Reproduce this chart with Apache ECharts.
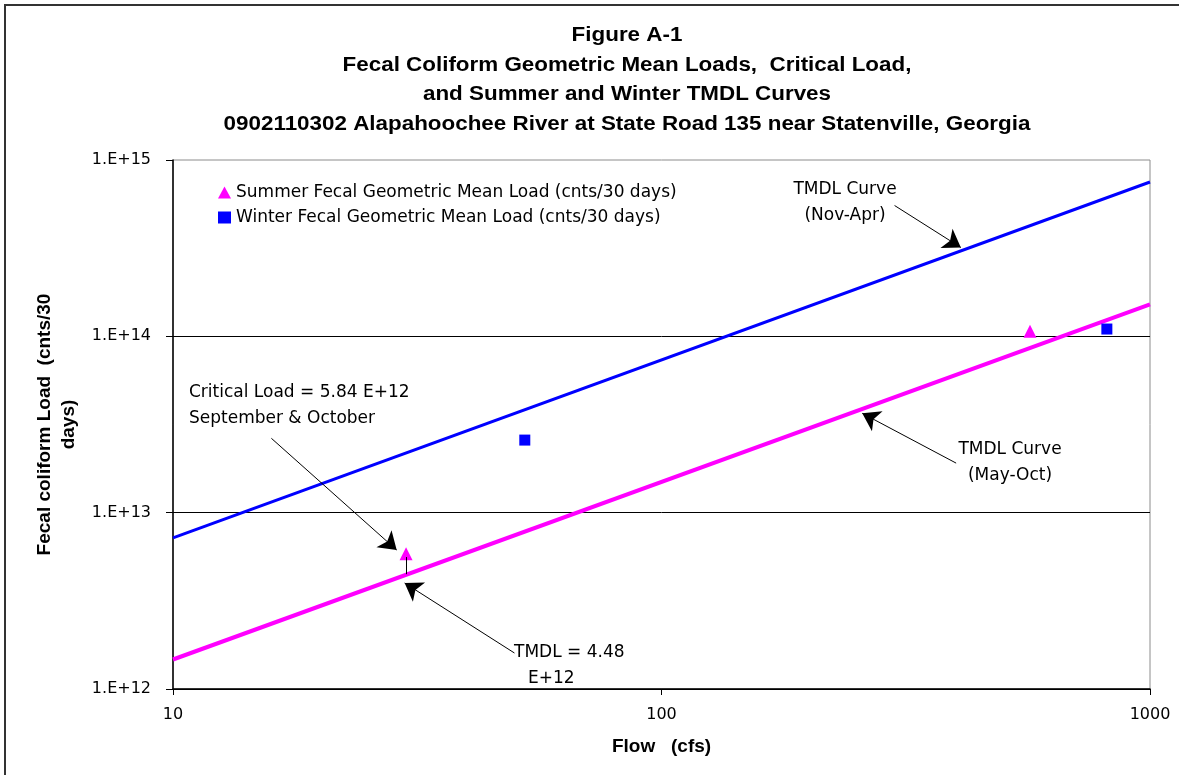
<!DOCTYPE html>
<html>
<head>
<meta charset="utf-8">
<script src="https://cdn.jsdelivr.net/npm/echarts@6/dist/echarts.min.js"></script>
<style>
    html, body { margin: 0; padding: 0; background: #fff; }
    #chart { width: 1179px; height: 775px; }
</style>
</head>
<body>
<div id="chart"></div>
<script>
    // values (flow in cfs, load in counts / 30 days)
    const summerPoints = [[30, 5.84e12], [568, 1.07e14]];
    const winterPoints = [[52.5, 2.58e13], [816, 1.10e14]];
    const winterCurve = [[10, 7.2e12], [1000, 7.5e14]];
    const summerCurve = [[10, 1.47e12], [1000, 1.52e14]];
    const yTickLabels = ['1.E+12', '1.E+13', '1.E+14', '1.E+15'];
    const xTickLabels = ['10', '100', '1000'];

    // annotation arrows: [from, to] in data units
    const arrows = [
        [[15.9, 2.64e13], [28.7, 6.14e12]],
        [[50, 1.6e12], [29.8, 3.99e12]],
        [[300, 5.52e14], [410, 3.19e14]],
        [[401, 1.91e13], [257.6, 3.66e13]]
    ];
    const tmdlTick = [[30, 5.6e12], [30, 4.48e12]];

    const font = '"Liberation Sans", Arial, sans-serif';
    const wideFont = '"DejaVu Sans", Verdana, sans-serif';
    const myCharts = echarts.init(document.getElementById('chart'));

    const note = (x, y, text, align) => ({
        type: 'text', x: x, y: y,
        style: { text: text, font: '17px ' + wideFont, fill: '#000', textAlign: align || 'center', lineHeight: 26 }
    });

    let options = {
        animation: false,
        textStyle: { fontFamily: font },
        grid: {
            left: 173, right: 29, top: 160, bottom: 86,
            show: true, borderColor: '#8c8c8c', borderWidth: 1
        },
        legend: {
            orient: 'vertical',
            left: 213, top: 179,
            itemWidth: 13, itemHeight: 12, itemGap: 8,
            textStyle: { fontSize: 17, color: '#000', fontFamily: wideFont },
            data: ['Summer Fecal Geometric Mean Load (cnts/30 days)', 'Winter Fecal Geometric Mean Load (cnts/30 days)']
        },
        graphic: [
            { type: 'rect', shape: { x: 5, y: 5, width: 1190, height: 790 }, style: { fill: 'none', stroke: '#333', lineWidth: 2 } },
            {
                type: 'text', x: 627, y: 21, scaleX: 1.12,
                style: {
                    text: 'Figure A-1\nFecal Coliform Geometric Mean Loads,  Critical Load,\nand Summer and Winter TMDL Curves\n0902110302 Alapahoochee River at State Road 135 near Statenville, Georgia',
                    font: 'bold 20px ' + font, fill: '#000', textAlign: 'center', lineHeight: 29.5
                }
            },
            note(189, 380, 'Critical Load = 5.84 E+12\nSeptember & October', 'left'),
            note(514, 640, 'TMDL = 4.48', 'left'),
            note(528, 666, 'E+12', 'left'),
            note(845, 177, 'TMDL Curve\n(Nov-Apr)'),
            note(1010, 437, 'TMDL Curve\n(May-Oct)')
        ],
        xAxis: {
            type: 'log', logBase: 10, min: 10, max: 1000,
            name: 'Flow   (cfs)', nameLocation: 'middle', nameGap: 48,
            nameTextStyle: { fontSize: 19, fontWeight: 'bold', color: '#000' },
            axisLine: { lineStyle: { color: '#000', width: 1.5 } },
            axisTick: { show: true, length: 6, lineStyle: { color: '#000' } },
            minorTick: { show: false },
            splitLine: { show: false },
            axisLabel: {
                fontSize: 16, color: '#000', margin: 18, fontFamily: wideFont,
                formatter: v => xTickLabels[Math.round(Math.log10(v)) - 1]
            }
        },
        yAxis: {
            type: 'log', logBase: 10, min: 1e12, max: 1e15,
            name: 'Fecal coliform Load  (cnts/30\ndays)', nameLocation: 'middle', nameGap: 91,
            nameTextStyle: { fontSize: 19, fontWeight: 'bold', color: '#000', lineHeight: 24 },
            axisLine: { lineStyle: { color: '#000', width: 1.5 } },
            axisTick: { show: true, length: 7, lineStyle: { color: '#000' } },
            splitLine: { show: true, showMinLine: false, showMaxLine: false, lineStyle: { color: '#000', width: 1 } },
            axisLabel: {
                fontSize: 16, color: '#000', margin: 22, fontFamily: wideFont,
                formatter: v => yTickLabels[Math.round(Math.log10(v)) - 12]
            }
        },
        series: [
            {
                name: 'TMDL Curve (Nov-Apr)', type: 'line', data: winterCurve,
                showSymbol: false, lineStyle: { color: '#0000ff', width: 3 }, z: 3
            },
            {
                name: 'TMDL Curve (May-Oct)', type: 'line', data: summerCurve,
                showSymbol: false, lineStyle: { color: '#ff00ff', width: 4 }, z: 3,
                markLine: {
                    silent: true, animation: false,
                    label: { show: false },
                    lineStyle: { color: '#000', width: 1, type: 'solid' },
                    symbol: ['none', 'arrow'], symbolSize: 17,
                    data: arrows.map(a => [{ coord: a[0] }, { coord: a[1] }]).concat([
                        [{ coord: tmdlTick[0], symbol: 'none' }, { coord: tmdlTick[1], symbol: 'none' }]
                    ])
                }
            },
            {
                name: 'Summer Fecal Geometric Mean Load (cnts/30 days)', type: 'scatter', data: summerPoints,
                symbol: 'triangle', symbolSize: 13, itemStyle: { color: '#ff00ff', opacity: 1 }, z: 4
            },
            {
                name: 'Winter Fecal Geometric Mean Load (cnts/30 days)', type: 'scatter', data: winterPoints,
                symbol: 'rect', symbolSize: 11, itemStyle: { color: '#0000ff', opacity: 1 }, z: 4
            }
        ]
    };
    myCharts.setOption(options);
</script>
</body>
</html>
